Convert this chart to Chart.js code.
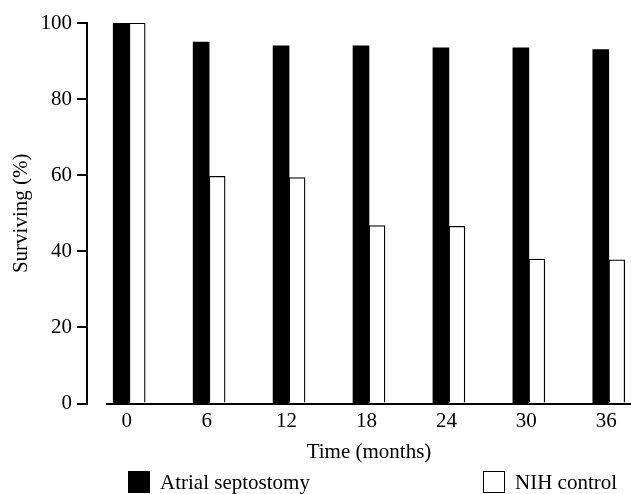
<!DOCTYPE html>
<html>
<head>
<meta charset="utf-8">
<title>Survival after atrial septostomy</title>
<script src="https://cdn.jsdelivr.net/npm/chart.js@4.4.1/dist/chart.umd.min.js"></script>
<style>
  html, body { margin: 0; padding: 0; background: #fff; }
  #wrap { position: relative; width: 631px; height: 494px; }
  #legend {
    position: absolute; left: 0; top: 471px; width: 631px; height: 22px;
    font: 21px 'Liberation Serif', 'Times New Roman', serif; color: #000;
  }
  .item { position: absolute; top: 0; height: 22px; display: flex; align-items: center; white-space: nowrap; }
  .swatch { width: 22px; height: 22px; box-sizing: border-box; margin-right: 10px; }
</style>
</head>
<body>
<div id="wrap">
  <canvas id="chart" width="631" height="494"></canvas>
  <div id="legend"></div>
</div>
<script>
// Follow-up times (months) and survival (%) for each group
const months = [0, 6, 12, 18, 24, 30, 36];
const septostomySurvival = [100, 95, 94, 94, 93.5, 93.5, 93];
const nihControlSurvival = [100, 59.7, 59.4, 46.8, 46.6, 38, 37.8];
const yTicks = [0, 20, 40, 60, 80, 100];
const seriesNames = ['Atrial septostomy', 'NIH control'];

const FONT = "'Liberation Serif', 'Times New Roman', serif";
Chart.defaults.font.family = FONT;
Chart.defaults.font.size = 21;
Chart.defaults.color = '#000';

const chart = new Chart(document.getElementById('chart'), {
  type: 'bar',
  data: {
    labels: months,
    datasets: [
      {
        label: seriesNames[0],
        data: septostomySurvival,
        backgroundColor: '#000',
        borderColor: '#000',
        borderWidth: 0,
        barThickness: 16,
        xAxisID: 'x',
        yAxisID: 'y'
      },
      {
        label: seriesNames[1],
        data: nihControlSurvival,
        backgroundColor: '#fff',
        borderColor: '#000',
        borderWidth: 1.3,
        barThickness: 16,
        xAxisID: 'x',
        yAxisID: 'y'
      }
    ]
  },
  options: {
    responsive: false,
    animation: false,
    events: [],
    layout: { padding: { top: 23, left: 1, right: 0, bottom: 29 } },
    plugins: {
      legend: { display: false },
      tooltip: { enabled: false }
    },
    scales: {
      x: {
        type: 'linear',
        position: 'bottom',
        offset: false,
        min: months[0] - 1.667,
        max: months[months.length - 1] + 1.667,
        afterBuildTicks: s => { s.ticks = months.map(v => ({ value: v })); },
        grid: { display: false, drawTicks: false, offset: false },
        border: { display: true, color: '#000', width: 2 },
        ticks: { padding: 5, labelOffset: -2.5, color: '#000', maxRotation: 0, autoSkip: false },
        title: { display: true, text: 'Time (months)', color: '#000', padding: { top: 1, bottom: 0 } }
      },
      y: {
        type: 'linear',
        position: 'left',
        weight: 2,
        min: 0,
        max: 100,
        afterBuildTicks: s => { s.ticks = yTicks.map(v => ({ value: v })); },
        afterFit: s => { s.width = 86; },
        grid: { drawOnChartArea: false, drawTicks: true, tickLength: 10, color: '#000', lineWidth: 2 },
        border: { display: true, color: '#000', width: 2 },
        ticks: { padding: 5, color: '#000' },
        title: { display: true, text: 'Surviving (%)', color: '#000', padding: { top: 8, bottom: 0 } }
      },
      // empty strip that separates the y axis line from the start of the x axis
      gap: {
        type: 'linear',
        position: 'left',
        weight: 0,
        min: 0,
        max: 100,
        ticks: { display: false },
        grid: { display: false, drawTicks: false },
        border: { display: false },
        afterFit: s => { s.width = 20; }
      }
    }
  }
});

// Legend below the axis title, one entry per dataset
const legendLefts = [128, 483];
const legendEl = document.getElementById('legend');
chart.data.datasets.forEach((ds, i) => {
  const item = document.createElement('div');
  item.className = 'item';
  item.style.left = legendLefts[i] + 'px';
  const sw = document.createElement('span');
  sw.className = 'swatch';
  sw.style.background = ds.backgroundColor;
  sw.style.border = ds.backgroundColor === '#000' ? 'none' : '1.5px solid #000';
  const tx = document.createElement('span');
  tx.textContent = ds.label;
  item.appendChild(sw);
  item.appendChild(tx);
  legendEl.appendChild(item);
});
</script>
</body>
</html>
